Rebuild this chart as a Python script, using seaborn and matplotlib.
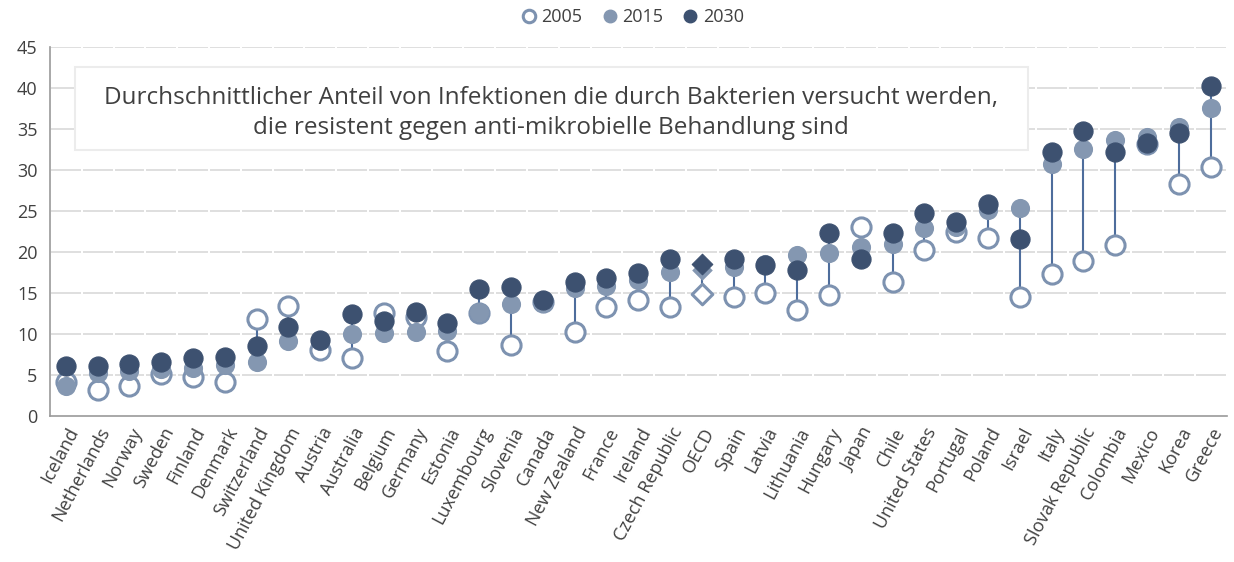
import numpy as np
import pandas as pd
import matplotlib
matplotlib.use("Agg")
import matplotlib.pyplot as plt
from matplotlib.lines import Line2D
from matplotlib.patches import Rectangle
import seaborn as sns

# Data (% resistant infections)
countries = ["Iceland", "Netherlands", "Norway", "Sweden", "Finland", "Denmark",
             "Switzerland", "United Kingdom", "Austria", "Australia", "Belgium",
             "Germany", "Estonia", "Luxembourg", "Slovenia", "Canada", "New Zealand",
             "France", "Ireland", "Czech Republic", "OECD", "Spain", "Latvia",
             "Lithuania", "Hungary", "Japan", "Chile", "United States", "Portugal",
             "Poland", "Israel", "Italy", "Slovak Republic", "Colombia", "Mexico",
             "Korea", "Greece"]
v2005 = [4.1, 3.2, 3.6, 5.1, 4.8, 4.2, 11.8, 13.4, 8.0, 7.1, 12.6, 12.1, 7.9,
         12.5, 8.7, 13.9, 10.2, 13.3, 14.2, 13.3, 14.9, 14.5, 15.0, 12.9, 14.7,
         23.1, 16.3, 20.2, 22.4, 21.7, 14.5, 17.3, 18.9, 20.9, 33.2, 28.3, 30.4]
v2015 = [3.7, 5.2, 5.5, 5.7, 5.9, 6.2, 6.6, 9.1, 9.2, 10.0, 10.1, 10.2, 10.4,
         12.7, 13.6, 13.8, 15.6, 15.8, 16.6, 17.6, 17.8, 18.2, 18.5, 19.6, 19.9,
         20.6, 21.0, 22.9, 23.1, 25.1, 25.4, 30.7, 32.5, 33.7, 34.0, 35.3, 37.5]
v2030 = [6.1, 6.1, 6.4, 6.6, 7.1, 7.2, 8.5, 10.9, 9.3, 12.4, 11.6, 12.7, 11.3,
         15.5, 15.7, 14.1, 16.3, 16.8, 17.4, 19.2, 18.5, 19.2, 18.4, 17.8, 22.3,
         19.1, 22.3, 24.8, 23.6, 25.9, 21.6, 32.2, 34.8, 32.2, 33.3, 34.5, 40.3]
years = ["2005", "2015", "2030"]
title_lines = ["Durchschnittlicher Anteil von Infektionen die durch Bakterien versucht werden,",
               "die resistent gegen anti-mikrobielle Behandlung sind"]

df = pd.DataFrame({"country": countries, "2005": v2005, "2015": v2015, "2030": v2030})
df["oecd"] = df["country"] == "OECD"
long = df.melt(id_vars=["country", "oecd"], value_vars=years, var_name="year", value_name="value")

c_dark = "#3d5170"
c_mid = "#8497b1"
c_ring = "#7d92b0"
c_stem = "#4e6d9c"
grid_c = "#dcdcdc"
text_c = "#404040"

sns.set_theme(style="white")
plt.rcParams["font.family"] = ["Open Sans", "DejaVu Sans"]

fig = plt.figure(figsize=(12.34, 5.62), dpi=100)
ax = fig.add_axes([0.0405, 0.2598, 0.9535, 0.6566])

n = len(countries)
pos = np.arange(n)

# segmented horizontal grid (gaps at category boundaries)
for yv in range(5, 50, 5):
    ax.hlines([yv] * n, pos - 0.47, pos + 0.47, color=grid_c, lw=1.3, zorder=0)

# stems from min to max of the three values
lo = df[years].min(axis=1)
hi = df[years].max(axis=1)
ax.vlines(pos, lo, hi, color=c_stem, lw=1.5, zorder=1)

styles = {
    "2005": dict(color="white", edgecolor=c_ring, linewidth=2.2, zorder=2),
    "2015": dict(color=c_mid, edgecolor=c_mid, linewidth=0, zorder=3),
    "2030": dict(color=c_dark, edgecolor=c_dark, linewidth=0.8, zorder=4),
}
for yr in years:
    sub = long[long["year"] == yr].copy()
    sub["x"] = sub["country"].map({c: i for i, c in enumerate(countries)})
    circ = sub[~sub["oecd"]]
    diam = sub[sub["oecd"]]
    sns.scatterplot(data=circ, x="x", y="value", marker="o", s=190, ax=ax,
                    legend=False, **styles[yr])
    sns.scatterplot(data=diam, x="x", y="value", marker="D", s=110, ax=ax,
                    legend=False, **styles[yr])

ax.set_xlim(-0.5, n - 0.5)
ax.set_ylim(0, 45)
ax.set_yticks(range(0, 50, 5))
ax.set_xticks(pos)
ax.set_xticklabels(countries, rotation=62, ha="right", rotation_mode="anchor",
                   fontsize=13, color=text_c)
ax.set_xticks(np.arange(-0.5, n, 1), minor=True)
ax.tick_params(axis="x", which="major", length=0, pad=6)
ax.tick_params(axis="x", which="minor", length=5, color="#999999", width=1.2)
ax.tick_params(axis="y", length=5, color="#999999", width=1.2, labelsize=13,
               labelcolor=text_c, pad=4)
ax.set_xlabel("")
ax.set_ylabel("")
for side in ["top", "right"]:
    ax.spines[side].set_visible(False)
for side in ["left", "bottom"]:
    ax.spines[side].set_color("#999999")
    ax.spines[side].set_linewidth(1.2)

# title box inside the plot
ax.add_patch(Rectangle((0.0212, 0.721), 0.81, 0.225, transform=ax.transAxes,
                       facecolor="white", edgecolor="#ececec", lw=1.5, zorder=5))
ax.text(0.426, 0.822, "\n".join(title_lines), transform=ax.transAxes,
        ha="center", va="center", fontsize=17.5, color=text_c, linespacing=1.35,
        zorder=6)

handles = [
    Line2D([], [], marker="o", ls="", markersize=9, markerfacecolor="white",
           markeredgecolor=c_ring, markeredgewidth=2.2),
    Line2D([], [], marker="o", ls="", markersize=9, markerfacecolor=c_mid,
           markeredgecolor=c_mid),
    Line2D([], [], marker="o", ls="", markersize=9, markerfacecolor=c_dark,
           markeredgecolor=c_dark),
]
leg = fig.legend(handles, years, loc="center", bbox_to_anchor=(0.512, 0.97),
                 ncol=3, frameon=False, fontsize=13, handletextpad=0.2,
                 columnspacing=1.0, handlelength=1.0)
for t in leg.get_texts():
    t.set_color(text_c)

fig.savefig("out.png", dpi=100)
